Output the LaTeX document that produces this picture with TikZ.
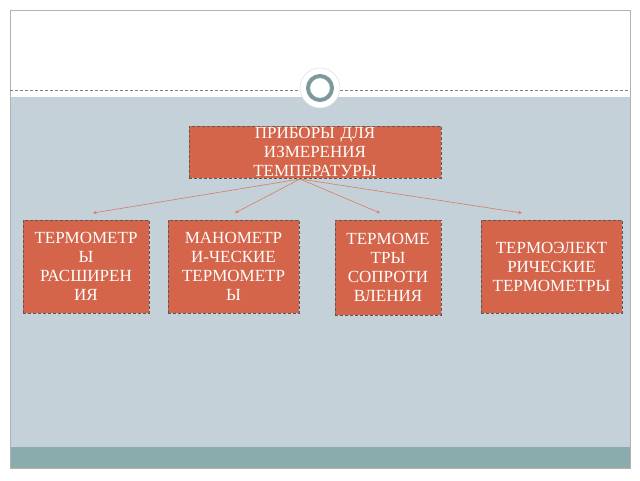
\documentclass[tikz,border=0pt]{standalone}
\usepackage{fontspec}
\setmainfont{Liberation Serif}
\definecolor{slidebg}{HTML}{C5D1D8}
\definecolor{boxfill}{HTML}{D4644A}
\definecolor{band}{HTML}{8AACAD}
\definecolor{ring}{HTML}{7A9A9B}
\tikzset{
  devbox/.style={draw=gray!70!black,densely dashed,fill=boxfill,text=white,
    align=center,inner sep=1pt,font=\fontsize{17}{19}\selectfont},
  devarrow/.style={draw=boxfill!85!white,->,>=stealth,semithick}
}
\begin{document}
\begin{tikzpicture}[x=1pt,y=-1pt]
        \useasboundingbox (0,0) rectangle (640,480);
        \fill[white] (0,0) rectangle (640,480);
        \fill[slidebg] (10,97) rectangle (630,447);
        \fill[band] (10,447) rectangle (630,468);
        \draw[gray!60] (10,10) rectangle (630,468);
        \draw[gray,densely dashed] (10,90) -- (630,90);
        \fill[white,draw=gray!30] (320,88) circle (20);
        \draw[ring,line width=4] (320,88) circle (12);

        \node[devbox,minimum width=252,minimum height=52,text width=250] (top) at (315,152)
            {ПРИБОРЫ ДЛЯ\\ИЗМЕРЕНИЯ\\ТЕМПЕРАТУРЫ};

        \node[devbox,minimum width=126,minimum height=93,text width=124] (exp) at (86,266.5)
            {ТЕРМОМЕТР\\Ы\\РАСШИРЕН\\ИЯ};
        \node[devbox,minimum width=131,minimum height=93,text width=129] (man) at (233.5,266.5)
            {МАНОМЕТР\\И-ЧЕСКИЕ\\ТЕРМОМЕТР\\Ы};
        \node[devbox,minimum width=106,minimum height=95,text width=104] (res) at (388,267.5)
            {ТЕРМОМЕ\\ТРЫ\\СОПРОТИ\\ВЛЕНИЯ};
        \node[devbox,minimum width=141,minimum height=93,text width=139] (thc) at (551.5,266.5)
            {ТЕРМОЭЛЕКТ\\РИЧЕСКИЕ\\ТЕРМОМЕТРЫ};

        \coordinate (src) at (300,179);
        \coordinate (t1) at (93,213);
        \coordinate (t2) at (235,213);
        \coordinate (t3) at (380,213);
        \coordinate (t4) at (522,213);
        \foreach \t in {t1,t2,t3,t4}
            \draw[devarrow] (src) -- (\t);
\end{tikzpicture}
\end{document}
